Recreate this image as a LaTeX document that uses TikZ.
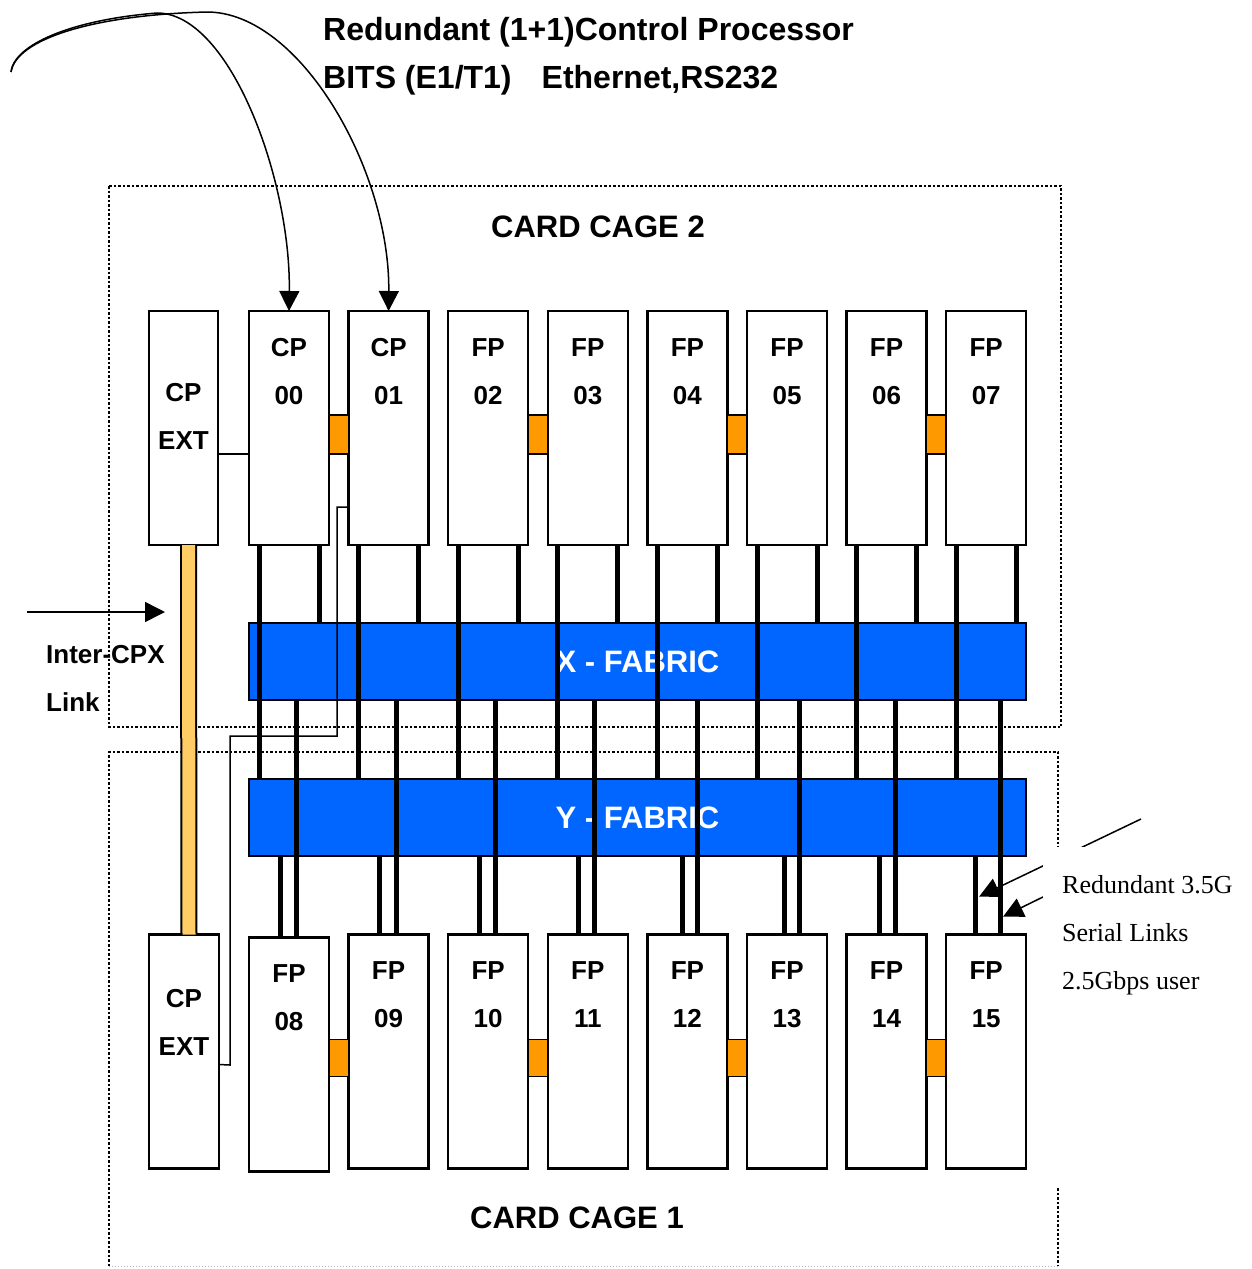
\documentclass[tikz,border=0pt]{standalone}
\usepackage{fontspec}
\setmainfont{Liberation Sans}
\newfontfamily\timesfont{Liberation Serif}
\usetikzlibrary{arrows.meta,calc,positioning}
\definecolor{fabricblue}{HTML}{0066FF}
\definecolor{bridgeorange}{HTML}{FF9900}
\definecolor{cpxyellow}{HTML}{FFCC66}
\tikzset{
  card/.style={draw, line width=2.5pt, fill=white, minimum width=80pt, minimum height=234pt, inner sep=0pt, outer sep=0pt},
  cardtxt/.style={font=\fontsize{26}{48}\selectfont\bfseries, align=center, inner sep=0pt},
  fabric/.style={draw, line width=2pt, fill=fabricblue, minimum width=777pt, minimum height=77pt, inner sep=0pt, outer sep=0pt, text=white, font=\fontsize{31}{36}\selectfont\bfseries},
  cagetxt/.style={font=\fontsize{31}{36}\selectfont\bfseries, inner sep=0pt},
  headtxt/.style={font=\fontsize{32}{48}\selectfont\bfseries, align=left, inner sep=0pt},
  sidetxt/.style={font=\fontsize{26}{48}\selectfont\bfseries, align=left, inner sep=0pt},
  notetxt/.style={font=\fontsize{26}{48}\selectfont\timesfont, align=left, inner sep=0pt},
  cage/.style={line width=2.5pt, dash pattern=on 2.5pt off 2pt},
  link/.style={line width=5pt},
  wire/.style={line width=1.5pt},
  bridge/.style={draw, line width=1.5pt, fill=bridgeorange},
  cpxbar/.style={line width=2pt, double=cpxyellow, double distance=13pt},
  pointer/.style={line width=1.5pt, -{Triangle[length=20pt, width=20pt]}},
}

\begin{document}
\begin{tikzpicture}[x=1pt, y=-1pt]
  \useasboundingbox (0,0) rectangle (1252,1269);

  % Card cages
  \draw[cage] (109,186) rectangle (1061,727);
  \draw[cage] (109,1266) -- (109,752) -- (1058,752) -- (1058,1266);
  \draw[gray!60, dotted, line width=1pt] (109,1266) -- (1058,1266);
  \node[cagetxt] (cage2) at (598,227) {CARD CAGE 2};
  \node[cagetxt] (cage1) at (577,1218) {CARD CAGE 1};

  % Heading
  \node[headtxt, anchor=north west] (heading) at (323,17) {Redundant (1+1)Control Processor\\BITS (E1/T1)\hspace{30pt}Ethernet,RS232};

  % Fabrics
  \node[fabric] (xfab) at (637.5,661.5) {X - FABRIC};
  \node[fabric] (yfab) at (637.5,817.5) {Y - FABRIC};

  % CP EXT cards
  \node[card, minimum width=69pt] (t0) at (183.5,428) {};
  \node[cardtxt, below=72pt of t0.north] (t0txt) {CP\\EXT};
  \node[card, minimum width=70pt] (b0) at (184,1051.5) {};
  \node[cardtxt, below=55pt of b0.north] (b0txt) {CP\\EXT};

  % Top row (card cage 2)
  \foreach \i/\name/\num in {1/CP/00, 2/CP/01, 3/FP/02, 4/FP/03, 5/FP/04, 6/FP/05, 7/FP/06, 8/FP/07}{
    \node[card] (t\i) at ({289+99.6*(\i-1)},428) {};
    \node[cardtxt, below=27pt of t\i.north] (t\i txt) {\name\\\num};
  }

  % Bottom row (card cage 1)
  \foreach \i/\num/\cy in {1/08/1054.5, 2/09/1051.5, 3/10/1051.5, 4/11/1051.5, 5/12/1051.5, 6/13/1051.5, 7/14/1051.5, 8/15/1051.5}{
    \node[card] (b\i) at ({289+99.6*(\i-1)},\cy) {};
    \node[cardtxt, below=27pt of b\i.north] (b\i txt) {FP\\\num};
  }

  % Pair bridges
  \foreach \i/\j in {1/2, 3/4, 5/6, 7/8}{
    \draw[bridge] ($(t\i.east |- t\j.north)+(0,104)$) rectangle ($(t\j.north west)+(0,143)$);
    \draw[bridge] ($(b\i.east |- b\j.north)+(0,105)$) rectangle ($(b\j.north west)+(0,142)$);
  }

  % Fabric links
  \foreach \i in {1,...,8}{
    \draw[link] ($(t\i.south west)+(10,0)$) -- ($(t\i.south west |- yfab.north)+(10,0)$);
    \draw[link] ($(t\i.south west)+(70,0)$) -- ($(t\i.south west |- xfab.north)+(70,0)$);
  }
  \foreach \i/\ya/\xa in {1/31/47, 2/31/48, 3/31/47, 4/31/47, 5/35/50, 6/37/52, 7/33/49, 8/29/54}{
    \draw[link] ($(b\i.north west)+(\ya,0)$) -- ($(b\i.north west |- yfab.south)+(\ya,0)$);
    \draw[link] ($(b\i.north west)+(\xa,0)$) -- ($(b\i.north west |- xfab.south)+(\xa,0)$);
  }

  % Control wires
  \draw[wire] ($(t0.north east)+(0,143)$) -- ($(t1.north west)+(0,143)$);
  \draw[wire] ($(t2.north west)+(0,196)$) -| (337,736) -| (230,1065) -- ($(b0.north east)+(0,130)$);

  % Inter-CPX link
  \draw[cpxbar] ($(t0.south)+(5,0)$) -- ($(b0.north)+(5,0)$);
  \coordinate (cpxtail) at (27,612);
  \coordinate (cpxhead) at (165,612);
  \draw[pointer] (cpxtail) -- (cpxhead);
  \node[sidetxt, anchor=north west] (cpxtxt) at (46,645) {Inter-CPX\\Link};

  % BITS / Ethernet feeds
  \coordinate (feedin) at (11,72);
  \draw[pointer] (feedin) .. controls (14,45) and (70,20) .. (157,13) .. controls (230,13) and (291,180) .. (t1.north);
  \draw[pointer] (feedin) .. controls (16,40) and (90,15) .. (207,12) .. controls (300,12) and (390,170) .. (t2.north);

  % Serial link note
  \coordinate (serialtail1) at (1141,819);
  \coordinate (serialtail2) at (1100,869);
  \draw[pointer] (serialtail1) -- ($(b8.north west)+(33,-38)$);
  \draw[pointer] (serialtail2) -- ($(b8.north west)+(57,-18)$);
  \node[fill=white, minimum width=209pt, minimum height=340pt, anchor=north west] (notebox) at (1043,847) {};
  \node[notetxt, anchor=north west] (notetxt) at (1062,875) {Redundant 3.5G\\Serial Links\\2.5Gbps user};
\end{tikzpicture}
\end{document}
